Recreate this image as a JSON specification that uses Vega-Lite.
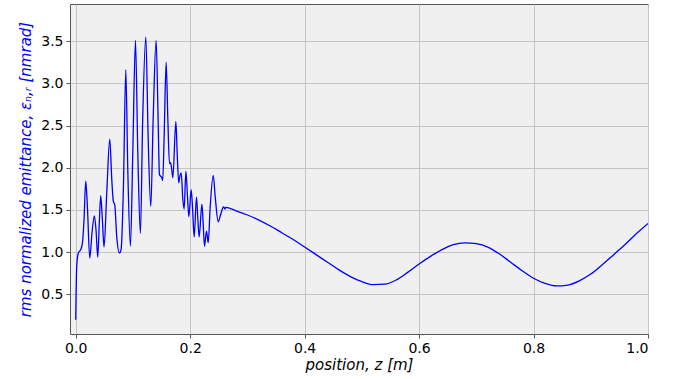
{
  "$schema": "https://vega.github.io/schema/vega-lite/v6.json",
  "width": 578,
  "height": 330,
  "autosize": {"type": "none"},
  "padding": {"left": 70, "top": 4, "right": 34, "bottom": 45},
  "background": "#ffffff",
  "config": {
    "view": {"fill": "#f0f0f0", "stroke": "#555555", "strokeWidth": 1},
    "font": "DejaVu Sans",
    "axis": {
      "labelFont": "DejaVu Sans",
      "labelFontSize": 14,
      "labelColor": "#000000",
      "titleFont": "DejaVu Sans",
      "titleFontSize": 15,
      "titleFontWeight": "normal",
      "domain": false,
      "tickColor": "#555555",
      "tickSize": 4,
      "gridColor": "#c4c4c4",
      "gridWidth": 1
    }
  },
  "data": {
    "values": [
      {"z": 0.0, "eps": 0.2},
      {"z": 0.0017, "eps": 0.83},
      {"z": 0.0046, "eps": 0.99},
      {"z": 0.0087, "eps": 1.03},
      {"z": 0.0116, "eps": 1.1},
      {"z": 0.0145, "eps": 1.38},
      {"z": 0.0175, "eps": 1.84},
      {"z": 0.0204, "eps": 1.54},
      {"z": 0.0245, "eps": 0.93},
      {"z": 0.0285, "eps": 1.23},
      {"z": 0.0326, "eps": 1.43},
      {"z": 0.0355, "eps": 1.26},
      {"z": 0.0385, "eps": 0.94},
      {"z": 0.0414, "eps": 1.38},
      {"z": 0.0437, "eps": 1.67},
      {"z": 0.0466, "eps": 1.38},
      {"z": 0.0495, "eps": 1.06},
      {"z": 0.0542, "eps": 1.7},
      {"z": 0.0595, "eps": 2.34},
      {"z": 0.063, "eps": 1.86},
      {"z": 0.0658, "eps": 1.6},
      {"z": 0.0682, "eps": 1.56},
      {"z": 0.0717, "eps": 1.18},
      {"z": 0.0764, "eps": 0.99},
      {"z": 0.0793, "eps": 1.03},
      {"z": 0.0834, "eps": 1.78},
      {"z": 0.0875, "eps": 3.16},
      {"z": 0.091, "eps": 1.97},
      {"z": 0.0956, "eps": 1.07},
      {"z": 0.0997, "eps": 2.17},
      {"z": 0.1044, "eps": 3.51},
      {"z": 0.1085, "eps": 2.17},
      {"z": 0.113, "eps": 1.22},
      {"z": 0.117, "eps": 2.57},
      {"z": 0.1225, "eps": 3.55},
      {"z": 0.1265, "eps": 2.37},
      {"z": 0.1312, "eps": 1.54},
      {"z": 0.1353, "eps": 2.57},
      {"z": 0.1405, "eps": 3.51},
      {"z": 0.144, "eps": 2.57},
      {"z": 0.1463, "eps": 1.92},
      {"z": 0.1505, "eps": 1.88},
      {"z": 0.152, "eps": 1.85},
      {"z": 0.1545, "eps": 2.37},
      {"z": 0.158, "eps": 3.25},
      {"z": 0.161, "eps": 2.57},
      {"z": 0.1638, "eps": 2.05},
      {"z": 0.1655, "eps": 2.06},
      {"z": 0.1673, "eps": 2.01},
      {"z": 0.1697, "eps": 1.88},
      {"z": 0.175, "eps": 2.55},
      {"z": 0.1773, "eps": 2.17},
      {"z": 0.18, "eps": 1.82},
      {"z": 0.182, "eps": 1.9},
      {"z": 0.1843, "eps": 1.94},
      {"z": 0.1872, "eps": 1.62},
      {"z": 0.1895, "eps": 1.51},
      {"z": 0.1925, "eps": 1.96},
      {"z": 0.1953, "eps": 1.66},
      {"z": 0.1977, "eps": 1.42},
      {"z": 0.2017, "eps": 1.74},
      {"z": 0.204, "eps": 1.54},
      {"z": 0.207, "eps": 1.18},
      {"z": 0.211, "eps": 1.65},
      {"z": 0.2135, "eps": 1.38},
      {"z": 0.2157, "eps": 1.18},
      {"z": 0.2205, "eps": 1.57},
      {"z": 0.2227, "eps": 1.34},
      {"z": 0.225, "eps": 1.07},
      {"z": 0.2285, "eps": 1.25},
      {"z": 0.2315, "eps": 1.11},
      {"z": 0.235, "eps": 1.54},
      {"z": 0.2403, "eps": 1.91},
      {"z": 0.2437, "eps": 1.66},
      {"z": 0.249, "eps": 1.36},
      {"z": 0.253, "eps": 1.44},
      {"z": 0.2583, "eps": 1.535},
      {"z": 0.2607, "eps": 1.51},
      {"z": 0.262, "eps": 1.53},
      {"z": 0.28, "eps": 1.49},
      {"z": 0.3, "eps": 1.44},
      {"z": 0.32, "eps": 1.38},
      {"z": 0.34, "eps": 1.31},
      {"z": 0.36, "eps": 1.23},
      {"z": 0.38, "eps": 1.15},
      {"z": 0.4, "eps": 1.06},
      {"z": 0.42, "eps": 0.97},
      {"z": 0.44, "eps": 0.88},
      {"z": 0.46, "eps": 0.79},
      {"z": 0.48, "eps": 0.71},
      {"z": 0.5, "eps": 0.65},
      {"z": 0.52, "eps": 0.615},
      {"z": 0.54, "eps": 0.62},
      {"z": 0.56, "eps": 0.67},
      {"z": 0.58, "eps": 0.76},
      {"z": 0.6, "eps": 0.86},
      {"z": 0.62, "eps": 0.95},
      {"z": 0.64, "eps": 1.03},
      {"z": 0.66, "eps": 1.09},
      {"z": 0.68, "eps": 1.11},
      {"z": 0.7, "eps": 1.1},
      {"z": 0.72, "eps": 1.06},
      {"z": 0.74, "eps": 0.98},
      {"z": 0.76, "eps": 0.88},
      {"z": 0.78, "eps": 0.78},
      {"z": 0.8, "eps": 0.69},
      {"z": 0.82, "eps": 0.63},
      {"z": 0.84, "eps": 0.6},
      {"z": 0.86, "eps": 0.61},
      {"z": 0.88, "eps": 0.66},
      {"z": 0.9, "eps": 0.74},
      {"z": 0.92, "eps": 0.85},
      {"z": 0.94, "eps": 0.97},
      {"z": 0.96, "eps": 1.09},
      {"z": 0.98, "eps": 1.22},
      {"z": 1.0, "eps": 1.34}
    ]
  },
  "mark": {"type": "line", "color": "#0000ff", "strokeWidth": 1.3, "interpolate": "monotone", "clip": true},
  "encoding": {
    "x": {
      "field": "z",
      "type": "quantitative",
      "scale": {"domain": [-0.01, 1.0], "nice": false, "zero": false},
      "axis": {
        "values": [0, 0.2, 0.4, 0.6, 0.8, 1.0],
        "format": ".1f",
        "labelPadding": 3,
        "title": "position,  z [m]",
        "titleFontStyle": "italic",
        "titleColor": "#000000",
        "titlePadding": 2
      }
    },
    "y": {
      "field": "eps",
      "type": "quantitative",
      "scale": {"domain": [0.03, 3.94], "nice": false, "zero": false},
      "axis": {
        "values": [0.5, 1.0, 1.5, 2.0, 2.5, 3.0, 3.5],
        "format": ".1f",
        "labelPadding": 3,
        "title": "rms normalized emittance,  εₙ,ᵣ [nmrad]",
        "titleFontStyle": "italic",
        "titleColor": "#0000ff",
        "titlePadding": 7
      }
    }
  }
}
